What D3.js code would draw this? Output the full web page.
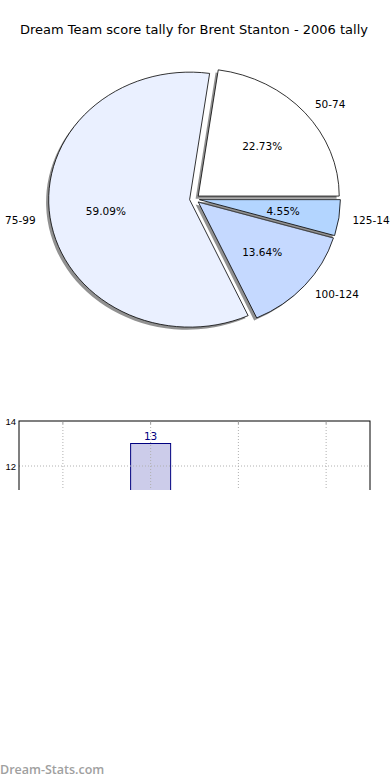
<!DOCTYPE html>
<html><head><meta charset="utf-8">
<script src="https://cdn.jsdelivr.net/npm/d3@7"></script>
<style>html,body{margin:0;padding:0;background:#fff;}svg{display:block;}</style>
</head><body>
<script>
const categories = ["50-74", "75-99", "100-124", "125-149"];
const counts = [5, 13, 3, 1];
const sliceColors = ["#ffffff", "#eaf0ff", "#c5d9ff", "#b3d5ff"];
const yTicks = [0, 2, 4, 6, 8, 10, 12, 14];
const title = "Dream Team score tally for Brent Stanton - 2006 tally";
const watermark = "Dream-Stats.com";

(function () {
const W = 390, H = 780;
const svg = d3.select("body").append("svg").attr("width", W).attr("height", H);

svg.append("text").attr("x", 194).attr("y", 34).attr("text-anchor", "middle")
  .attr("font-family", "DejaVu Sans").attr("font-size", 13).attr("fill", "#000").text(title);

// ---- Pie ----
const cx = 194.5, cy = 199, rx = 141, ry = 127.5, explode = 0.035;
const total = d3.sum(counts);
const pie = d3.pie().sort(null).startAngle(Math.PI / 2).endAngle(Math.PI / 2 - 2 * Math.PI);
const arcs = pie(counts);
const arc = d3.arc().innerRadius(0).outerRadius(1);
const pieG = svg.append("g");
const fmt = d3.format(".2f");
arcs.forEach((a, i) => {
  const m = (a.startAngle + a.endAngle) / 2;
  const sx = Math.sin(m), sy = -Math.cos(m);
  const ox = cx + explode * rx * sx, oy = cy + explode * ry * sy;
  pieG.append("path").attr("d", arc(a))
    .attr("transform", `translate(${ox - 2.6},${oy + 2.6}) scale(${rx},${ry})`)
    .attr("fill", "#4d4d4d").attr("opacity", 0.62);
  pieG.append("path").attr("d", arc(a))
    .attr("transform", `translate(${ox},${oy}) scale(${rx},${ry})`)
    .attr("fill", sliceColors[i]).attr("stroke", "#000").attr("stroke-width", 0.8)
    .attr("vector-effect", "non-scaling-stroke").attr("stroke-linejoin", "miter");
  a.ox = ox; a.oy = oy; a.sx = sx; a.sy = sy;
});
arcs.forEach((a, i) => {
  pieG.append("text").attr("x", a.ox + 1.1 * rx * a.sx - 0.5).attr("y", a.oy + 1.1 * ry * a.sy)
    .attr("text-anchor", a.sx > 0 ? "start" : "end").attr("dominant-baseline", "central")
    .attr("font-family", "DejaVu Sans").attr("font-size", 10.5).text(categories[i]);
  pieG.append("text").attr("x", a.ox + 0.6 * rx * a.sx).attr("y", a.oy + 0.6 * ry * a.sy)
    .attr("text-anchor", "middle").attr("dominant-baseline", "central")
    .attr("font-family", "DejaVu Sans").attr("font-size", 10.5)
    .text(fmt(counts[i] / total * 100) + "%");
});

// ---- Bar chart (cut off) ----
const pLeft = 19, pRight = 370, pTop = 421, pBottom = 736, cutY = 490;
const x = d3.scaleBand().domain(categories).range([pLeft, pRight]).padding(0);
const y = d3.scaleLinear().domain([0, 14]).range([pBottom, pTop]);
svg.append("defs").append("clipPath").attr("id", "cut")
  .append("rect").attr("x", 0).attr("y", 0).attr("width", W).attr("height", cutY);
const bg = svg.append("g").attr("clip-path", "url(#cut)");
const cxb = d => x(d) + x.bandwidth() / 2;
const inner = yTicks.filter(t => t > 0 && t < 14);

const bw = x.bandwidth() * 0.456;
bg.selectAll("rect.bar").data(counts).enter().append("rect")
  .attr("x", (d, i) => cxb(categories[i]) - bw / 2)
  .attr("y", d => y(d)).attr("width", bw).attr("height", d => pBottom - y(d))
  .attr("fill", "#ccccea").attr("stroke", "#000080").attr("stroke-width", 1);

bg.selectAll("line.vg").data(categories).enter().append("line")
  .attr("x1", cxb).attr("x2", cxb).attr("y1", pTop).attr("y2", pBottom)
  .attr("stroke", "#b0b0b0").attr("stroke-width", 1).attr("stroke-dasharray", "1,2");
bg.selectAll("line.hg").data(inner).enter().append("line")
  .attr("x1", pLeft).attr("x2", pRight).attr("y1", d => y(d)).attr("y2", d => y(d))
  .attr("stroke", "#b0b0b0").attr("stroke-width", 1).attr("stroke-dasharray", "1,2");

bg.selectAll("text.val").data(counts).enter().append("text")
  .attr("x", (d, i) => cxb(categories[i])).attr("y", d => y(d) - 4)
  .attr("text-anchor", "middle").attr("font-family", "DejaVu Sans").attr("font-size", 10.5)
  .attr("fill", "#000080").text(d => d);

bg.append("rect").attr("x", pLeft).attr("y", pTop).attr("width", pRight - pLeft).attr("height", pBottom - pTop)
  .attr("fill", "none").attr("stroke", "#000").attr("stroke-width", 1);

bg.selectAll("line.tt").data(categories).enter().append("line")
  .attr("x1", cxb).attr("x2", cxb).attr("y1", pTop).attr("y2", pTop + 3)
  .attr("stroke", "#999").attr("stroke-width", 1);

bg.selectAll("text.yt").data(yTicks).enter().append("text")
  .attr("x", pLeft - 3).attr("y", d => y(d)).attr("text-anchor", "end").attr("dominant-baseline", "central")
  .attr("font-family", "Liberation Sans Narrow, Liberation Sans").attr("font-size", 9.5).attr("fill", "#000")
  .text(d => d);

svg.append("text").attr("x", 0).attr("y", 774).attr("font-family", "Open Sans").attr("font-weight", 600)
  .attr("font-size", 12.5).attr("fill", "#a0a0a0").text(watermark);
})();
</script>
</body></html>
